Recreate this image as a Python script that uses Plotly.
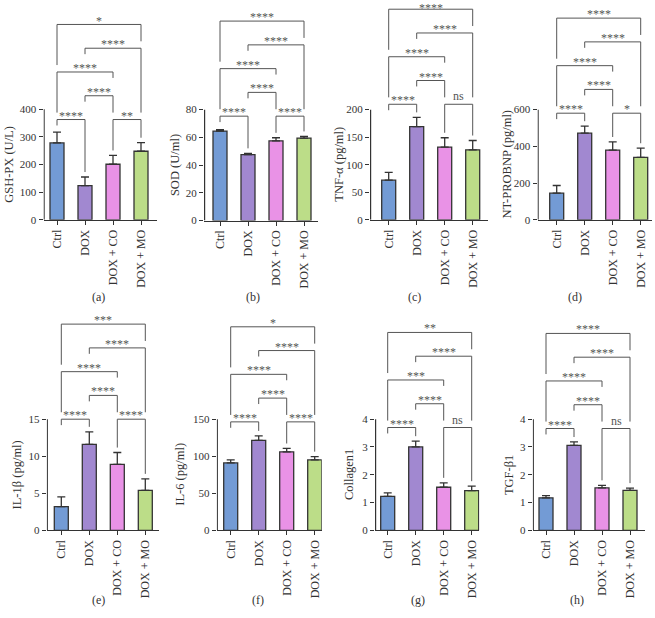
import plotly.graph_objects as go

W, H = 655, 618

# ---------------- data ----------------
groups = ["Ctrl", "DOX", "DOX + CO", "DOX + MO"]

gsh_px = [278, 124, 201, 248]
gsh_px_err = [39, 31, 32, 31]
sod = [64.5, 47.5, 57.5, 59.5]
sod_err = [1.0, 1.0, 2.2, 1.2]
tnf_a = [72, 169, 132, 127]
tnf_a_err = [14, 17, 17, 17]
nt_probnp = [145, 472, 380, 340]
nt_probnp_err = [42, 38, 44, 50]
il_1b = [3.2, 11.6, 8.9, 5.4]
il_1b_err = [1.3, 1.7, 1.6, 1.55]
il_6 = [91, 121.5, 106, 95]
il_6_err = [4, 6, 4.5, 4.5]
collagen1 = [1.22, 3.0, 1.55, 1.43]
collagen1_err = [0.13, 0.21, 0.16, 0.16]
tgf_b1 = [1.17, 3.06, 1.53, 1.44]
tgf_b1_err = [0.08, 0.12, 0.09, 0.08]

y_titles = ["GSH-PX (U/L)", "SOD (U/ml)", "TNF-α (pg/ml)", "NT-PROBNP (pg/ml)",
            "IL-1β (pg/ml)", "IL-6 (pg/ml)", "Collagen1", "TGF-β1"]
panel_labels = ["(a)", "(b)", "(c)", "(d)", "(e)", "(f)", "(g)", "(h)"]
axis_max = [400, 80, 200, 600, 15, 150, 4, 4]
tick_step = [100, 20, 50, 200, 5, 50, 1, 1]

# comparisons (group i, group j) and their stacking level
comparisons = [(0, 1), (2, 3), (1, 2), (0, 2), (1, 3), (0, 3)]
comp_levels = [1, 1, 2, 3, 4, 5]
sig_a = ["****", "**", "****", "****", "****", "*"]
sig_b = ["****", "****", "****", "****", "****", "****"]
sig_c = ["****", "ns", "****", "****", "****", "****"]
sig_d = ["****", "*", "****", "****", "****", "****"]
sig_e = ["****", "****", "****", "****", "****", "***"]
sig_f = ["****", "****", "****", "****", "****", "*"]
sig_g = ["****", "ns", "****", "***", "****", "**"]
sig_h = ["****", "ns", "****", "****", "****", "****"]

values = [gsh_px, sod, tnf_a, nt_probnp, il_1b, il_6, collagen1, tgf_b1]
errors = [gsh_px_err, sod_err, tnf_a_err, nt_probnp_err, il_1b_err, il_6_err,
          collagen1_err, tgf_b1_err]
sigs = [sig_a, sig_b, sig_c, sig_d, sig_e, sig_f, sig_g, sig_h]

# ---------------- layout geometry (pixels) ----------------
colors = ["#739bd5", "#a188d0", "#e992e6", "#bcdd88"]
FONT = "Liberation Serif"
INK = "#333333"
BRK = "#555555"

ax_px = [43.5, 204, 370, 537.5, 46.7, 216.7, 375, 532.7]
first_px = [57, 220, 388.7, 556.7, 61.3, 230.7, 387.7, 546]
right_px = [157, 318, 488, 651.7, 159, 321.7, 479.3, 645]
zero_px = [222, 222.7, 222, 222, 535.5, 535.5, 535.5, 535.5]
max_px = [110.3, 110.7, 110.7, 110.7, 423.3, 423.3, 423.3, 423.3]
top_px = [0, 0, 0, 0, 312, 312, 312, 312]
level1_px = [120.7, 117.3, 105.3, 114.3, 423.3, 426, 431.7, 432.7]
title_px = [8.3, 175, 339, 506.7, 16.7, 180, 348.3, 508.3]
label_px = [98, 253, 414, 575, 98, 258, 418, 577]
label_py = [300, 300, 300, 300, 606, 606, 606, 606]
SPACING = 28.0
LEVEL_STEP = 24.0
leg_modes = [("short", "data"), ("data", "data"), ("short", "long"),
             ("long", "short"), ("short", "long"), ("long", "long")]

fig = go.Figure()
layout = dict(width=W, height=H, margin=dict(l=0, r=0, t=0, b=0),
              paper_bgcolor="white", plot_bgcolor="white", showlegend=False,
              font=dict(family=FONT, color=INK, size=11))
shapes, annotations = [], []

for p in range(8):
    n = "" if p == 0 else str(p + 1)
    xa, ya = "x" + n, "y" + n
    amax = axis_max[p]
    z, m, t = zero_px[p], max_px[p], top_px[p]
    ppu = (z - m) / amax  # pixels per unit

    def val(py, z=z, ppu=ppu):
        return (z - py) / ppu

    lo = -(first_px[p] - ax_px[p]) / SPACING
    hi = lo + (right_px[p] - ax_px[p]) / SPACING

    fig.add_trace(go.Bar(
        x=list(range(4)), y=values[p], width=0.5,
        marker=dict(color=colors, line=dict(color=INK, width=1.3)),
        error_y=dict(type="data", array=errors[p], arrayminus=[0] * 4,
                     symmetric=False, color=INK, thickness=1.3, width=4),
        xaxis=xa, yaxis=ya, hoverinfo="skip"))

    layout["xaxis" + n] = dict(
        domain=[ax_px[p] / W, right_px[p] / W], range=[lo, hi], anchor=ya,
        tickvals=list(range(4)), ticktext=groups, tickangle=-90,
        showline=True, linecolor=INK, linewidth=1.2, ticks="outside",
        ticklen=4, tickwidth=1.2, tickcolor=INK, showgrid=False,
        zeroline=False, tickfont=dict(family=FONT, size=12, color=INK))
    layout["yaxis" + n] = dict(
        domain=[1 - z / H, 1 - t / H], range=[0, val(t)], anchor=xa,
        tickvals=[k * tick_step[p] for k in range(int(round(amax / tick_step[p])) + 1)],
        showline=False, ticks="outside", ticklen=4, tickwidth=1.2,
        tickcolor=INK, showgrid=False, zeroline=False,
        tickfont=dict(family=FONT, size=11, color=INK))

    # y axis line from 0 to axis max
    xl = lo + 0.6 / SPACING
    shapes.append(dict(type="line", xref=xa, yref=ya, x0=xl, x1=xl, y0=0, y1=amax,
                       line=dict(color=INK, width=1.2)))

    # significance brackets
    def lvl_px(L):
        return level1_px[p] - (L - 1) * LEVEL_STEP

    def errtop_px(k):
        return z - (values[p][k] + errors[p][k]) * ppu

    for c, ((i, j), L, lab) in enumerate(zip(comparisons, comp_levels, sigs[p])):
        ly = lvl_px(L)
        bottoms = []
        for k, mode in zip((i, j), leg_modes[c]):
            if mode == "short":
                b = ly + 6
            elif mode == "long":
                lower = [comp_levels[q] for q, (a, bb) in enumerate(comparisons)
                         if comp_levels[q] < L and a <= k <= bb]
                b = lvl_px(max(lower)) - 7 if lower else errtop_px(k) - 5
            else:
                b = errtop_px(k) - 5
            bottoms.append(b)
        path = "M {},{} L {},{} L {},{} L {},{}".format(
            i, val(bottoms[0]), i, val(ly), j, val(ly), j, val(bottoms[1]))
        shapes.append(dict(type="path", xref=xa, yref=ya, path=path,
                           line=dict(color=BRK, width=1)))
        if lab == "ns":
            ty = ly - 8
        else:
            ty = max(ly - 4, 8.5)
        annotations.append(dict(x=(i + j) / 2, y=val(ty), xref=xa, yref=ya,
                                text=lab, showarrow=False, yanchor="middle",
                                font=dict(family=FONT, size=12, color=BRK)))

    # y title
    annotations.append(dict(x=title_px[p] / W, y=1 - (z + m) / 2 / H, xref="paper",
                            yref="paper", text=y_titles[p], textangle=-90,
                            showarrow=False, xanchor="center", yanchor="middle",
                            font=dict(family=FONT, size=12.5, color=INK)))
    # panel label
    annotations.append(dict(x=label_px[p] / W, y=1 - label_py[p] / H, xref="paper",
                            yref="paper", text=panel_labels[p], showarrow=False,
                            xanchor="center", yanchor="middle",
                            font=dict(family=FONT, size=12, color=INK)))

layout["shapes"] = shapes
layout["annotations"] = annotations
fig.update_layout(**layout)
fig.write_html("out.html")
